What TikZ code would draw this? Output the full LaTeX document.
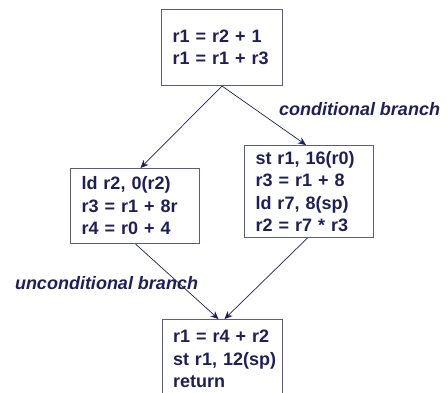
\documentclass[tikz,border=0pt]{standalone}
\usepackage{fontspec}
\setmainfont{Liberation Sans}
\usetikzlibrary{arrows.meta}
\definecolor{navy}{HTML}{1E1E5A}
\definecolor{boxline}{HTML}{5A5A8C}
\begin{document}
\begin{tikzpicture}[x=1pt,y=-1pt,
 blk/.style={draw=boxline,line width=1pt,rectangle,anchor=north west,inner xsep=11pt,inner ysep=0pt,align=left,text=navy,font=\fontsize{18}{22.5}\selectfont\bfseries},
 flow/.style={draw=navy,line width=0.7pt,-{Stealth[length=8pt,width=7pt]}},
 lbl/.style={text=navy,font=\fontsize{18}{20}\selectfont\bfseries\itshape,inner sep=0pt}]
\clip (0,0) rectangle (447,392);
\node[blk,minimum width=121pt,minimum height=76pt,text width=99pt] (T) at (161,9) {r1~=~r2~+~1\\r1~=~r1~+~r3};
\node[blk,minimum width=129pt,minimum height=75pt,text width=107pt] (L) at (70,168) {ld~r2,~0(r2)\\r3~=~r1~+~8r\\r4~=~r0~+~4};
\node[blk,minimum width=129pt,minimum height=92pt,text width=107pt] (R) at (244,145) {st~r1,~16(r0)\\r3~=~r1~+~8\\ld~r7,~8(sp)\\r2~=~r7~*~r3};
\node[blk,minimum width=120pt,minimum height=79pt,text width=99pt,inner xsep=10.5pt] (B) at (162,319) {r1~=~r4~+~r2\\st~r1,~12(sp)\\return};
\draw[flow] (T.south) -- ([xshift=5.5pt]L.north);
\draw[flow] (T.south) -- ([xshift=-3pt]R.north);
\draw[flow] ([xshift=0.5pt]L.south) -- ([xshift=-4pt]B.north);
\draw[flow] ([xshift=-1.5pt]R.south) -- ([xshift=2pt]B.north);
\node[lbl] (cb) at (359.5,109) {conditional branch};
\node[lbl] (ub) at (106.5,283) {unconditional branch};
\end{tikzpicture}
\end{document}
